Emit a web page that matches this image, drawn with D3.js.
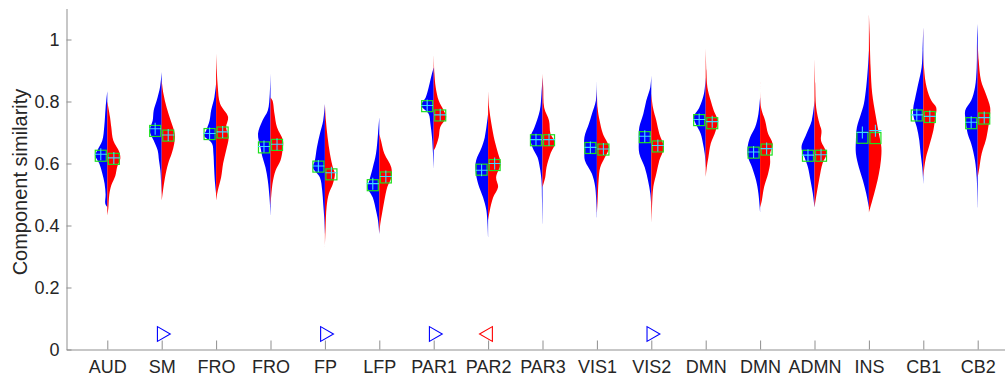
<!DOCTYPE html>
<html>
<head>
<meta charset="utf-8">
<script src="https://cdn.jsdelivr.net/npm/d3@7"></script>
<style>
  html, body { margin: 0; padding: 0; background: #fff; }
  svg { display: block; font-family: "Liberation Sans", Arial, Helvetica, sans-serif; }
</style>
</head>
<body>
<div class="violin-graph"></div>
<script>
const categories = ["AUD", "SM", "FRO", "FRO", "FP", "LFP", "PAR1", "PAR2", "PAR3",
  "VIS1", "VIS2", "DMN", "DMN", "ADMN", "INS", "CB1", "CB2"];

const yTicks = [0, 0.2, 0.4, 0.6, 0.8, 1];

// [value, density] pairs, top to bottom
const blueProfiles = [
  [[0.833,0],[0.78,1.7],[0.72,3],[0.674,5],[0.642,10],[0.626,12],[0.60,8],[0.568,5],[0.535,2.7],[0.50,1.7],[0.47,2],[0.459,0]],
  [[0.895,0],[0.846,1.7],[0.803,5],[0.771,8],[0.739,9],[0.706,12],[0.674,8],[0.642,4],[0.61,2.7],[0.577,1.3],[0.545,0.7],[0.50,0]],
  [[0.858,0],[0.814,1.7],[0.771,5],[0.739,6.5],[0.706,10],[0.69,12],[0.664,4],[0.632,2.7],[0.587,2],[0.545,1.3],[0.503,0]],
  [[0.89,0],[0.826,0.7],[0.771,2.7],[0.739,8],[0.696,12.5],[0.652,10],[0.62,8],[0.587,5],[0.545,2.7],[0.49,1],[0.432,0]],
  [[0.793,0],[0.739,1.7],[0.696,5],[0.652,8],[0.61,10],[0.587,12],[0.555,5],[0.513,2.7],[0.47,1.7],[0.426,0.7],[0.373,0]],
  [[0.749,0],[0.696,1.3],[0.632,3.3],[0.587,6.5],[0.545,10],[0.524,12],[0.49,6.5],[0.448,3.3],[0.416,1.3],[0.373,0]],
  [[0.91,0],[0.89,1.7],[0.846,5],[0.813,8],[0.787,12.5],[0.76,5],[0.728,3.3],[0.685,1.7],[0.632,0.7],[0.584,0]],
  [[0.76,0],[0.685,3.3],[0.652,6.5],[0.61,12],[0.577,12.5],[0.535,10],[0.49,5],[0.448,1.7],[0.362,0]],
  [[0.878,0],[0.826,1],[0.771,2.7],[0.717,8],[0.685,12],[0.652,10],[0.62,5],[0.587,2.7],[0.545,1],[0.48,0.5],[0.406,0]],
  [[0.868,0],[0.803,1],[0.76,5],[0.728,8],[0.685,12.5],[0.642,12.5],[0.61,12],[0.567,5],[0.524,1.7],[0.426,0]],
  [[0.884,0],[0.846,1],[0.803,5],[0.76,8],[0.717,12],[0.674,12.5],[0.632,12],[0.587,6.5],[0.545,3.3],[0.503,1],[0.46,0]],
  [[0.878,0],[0.826,1.7],[0.78,6.5],[0.75,12],[0.728,10],[0.696,5],[0.664,2.7],[0.632,1],[0.587,0]],
  [[0.813,0],[0.76,1.7],[0.717,5],[0.685,10],[0.652,12.5],[0.62,12],[0.587,8],[0.545,4],[0.503,1.7],[0.442,0]],
  [[0.803,0],[0.739,2.7],[0.696,8],[0.652,13],[0.62,10],[0.587,6.5],[0.545,4],[0.503,1.7],[0.458,0]],
  [[0.965,0],[0.91,1],[0.846,2.7],[0.793,5],[0.76,8],[0.717,12],[0.674,13],[0.632,13],[0.587,10],[0.545,6],[0.503,2.7],[0.458,0]],
  [[1.04,0],[0.965,0.7],[0.91,1.7],[0.858,5],[0.813,8],[0.78,10],[0.755,10],[0.717,6.5],[0.674,4],[0.632,2.7],[0.587,1],[0.535,0]],
  [[1.05,0],[0.997,0.7],[0.91,1],[0.846,2.7],[0.803,6.5],[0.771,12.5],[0.739,12],[0.696,10],[0.664,6.5],[0.61,2.7],[0.555,1],[0.458,0]],
];

const redProfiles = [
  [[0.80,0],[0.75,2.7],[0.717,4],[0.674,6],[0.637,12],[0.615,13],[0.59,10],[0.56,8],[0.53,4],[0.50,2],[0.455,1],[0.432,0]],
  [[0.868,0],[0.826,1.7],[0.78,5],[0.739,9],[0.696,13],[0.664,12.5],[0.632,10],[0.60,6.5],[0.555,3.3],[0.513,1.3],[0.48,0]],
  [[0.955,0],[0.9,0.7],[0.846,1.7],[0.793,4],[0.75,12],[0.717,10],[0.685,12.5],[0.642,10],[0.60,7],[0.555,5],[0.513,1.7],[0.48,0]],
  [[0.813,0],[0.803,2],[0.76,4],[0.717,6.5],[0.674,12.5],[0.642,12],[0.61,10],[0.577,5],[0.535,2],[0.46,0]],
  [[0.793,0],[0.739,1],[0.685,2.7],[0.632,5],[0.587,8],[0.567,10],[0.535,8],[0.503,4],[0.46,1.7],[0.394,0.7],[0.33,0]],
  [[0.696,0],[0.674,1.7],[0.632,5],[0.587,12],[0.555,12],[0.524,8],[0.48,5],[0.438,2.7],[0.406,1],[0.373,0]],
  [[0.955,0],[0.89,0.7],[0.846,2],[0.803,5],[0.771,10],[0.75,12.5],[0.717,6.5],[0.685,5],[0.652,1.7],[0.642,0]],
  [[0.835,0],[0.78,1],[0.728,3.3],[0.674,6.5],[0.632,10],[0.60,12.5],[0.555,8],[0.524,10],[0.49,5],[0.448,1.7],[0.416,0]],
  [[0.89,0],[0.846,0.7],[0.78,1.7],[0.739,6.5],[0.696,8],[0.668,12.5],[0.632,8],[0.587,4],[0.555,2.7],[0.535,1],[0.524,0]],
  [[0.868,0],[0.78,0.7],[0.739,2.7],[0.696,6],[0.652,12],[0.62,8],[0.587,3.3],[0.545,1.7],[0.48,0.7],[0.438,0]],
  [[0.826,0],[0.78,1.7],[0.739,5],[0.696,8],[0.652,12.5],[0.61,8],[0.567,5],[0.524,2],[0.46,0.7],[0.406,0]],
  [[0.975,0],[0.9,0.7],[0.846,1.7],[0.803,5],[0.771,8],[0.739,12],[0.706,10],[0.664,5],[0.62,2.7],[0.587,1],[0.555,0]],
  [[0.868,0],[0.78,1],[0.739,5],[0.696,8],[0.664,12.5],[0.632,10],[0.60,10],[0.567,8],[0.524,4],[0.48,1.7],[0.458,0]],
  [[0.942,0],[0.858,0.7],[0.78,1.7],[0.728,5],[0.706,7],[0.674,6.5],[0.632,12],[0.60,8],[0.555,5],[0.513,2.7],[0.48,1],[0.458,0]],
  [[1.083,0],[1.02,0.7],[0.91,1.7],[0.826,3.3],[0.76,6.5],[0.696,10],[0.652,12.5],[0.61,12],[0.567,10],[0.524,7],[0.48,3.3],[0.442,0]],
  [[1.04,0],[0.91,0.7],[0.846,3.3],[0.803,8],[0.78,13],[0.749,12],[0.706,10],[0.664,6.5],[0.62,2.7],[0.587,1],[0.555,0]],
  [[0.987,0],[0.932,1],[0.868,3.3],[0.826,8],[0.78,12.5],[0.749,12],[0.706,10],[0.674,8],[0.632,4],[0.587,1.7],[0.555,0]],
];

const blueMean = [0.625, 0.705, 0.695, 0.652, 0.59, 0.53, 0.785, 0.58, 0.675, 0.65, 0.685, 0.74, 0.635, 0.625, 0.683, 0.755, 0.73];
const redMean = [0.615, 0.69, 0.70, 0.66, 0.565, 0.555, 0.755, 0.595, 0.675, 0.645, 0.655, 0.73, 0.645, 0.625, 0.682, 0.75, 0.745];
const blueMedian = [0.63, 0.712, 0.697, 0.655, 0.592, 0.535, 0.787, 0.578, 0.677, 0.652, 0.688, 0.742, 0.637, 0.627, 0.70, 0.757, 0.733];
const redMedian = [0.618, 0.692, 0.702, 0.662, 0.57, 0.558, 0.757, 0.60, 0.677, 0.647, 0.658, 0.735, 0.648, 0.628, 0.706, 0.752, 0.748];

// significance markers: category index (1-based), direction, value
const sigIndex = [2, 5, 7, 8, 11];
const sigDirection = ["right", "right", "right", "left", "right"];
const sigValue = 0.05;

const width = 1005;
const height = 391;
const axisColor = "#8f8f8f";
const textColor = "#262626";

const x = d3.scaleLinear().domain([0.25, 17.75]).range([66.5, 1018.5]);
const y = d3.scaleLinear().domain([0, 1.1]).range([349.5, 8.5]);
const step = x(2) - x(1);
const w = d3.scaleLinear().domain([0, 27.2]).range([0, step / 2]);
const offset = 0.12;

const svg = d3.select(".violin-graph").append("svg")
  .attr("width", width)
  .attr("height", height);

svg.append("defs").append("filter")
  .attr("id", "soft")
  .append("feGaussianBlur")
  .attr("stdDeviation", 0.5);

const violins = svg.append("g").attr("filter", "url(#soft)");

const half = (cx, sign) => d3.area()
  .curve(d3.curveCatmullRom)
  .y((d) => y(d[0]))
  .x0(cx)
  .x1((d) => cx + sign * w(d[1]));

categories.forEach((c, i) => {
  const cx = x(i + 1);
  violins.append("path")
    .attr("d", half(cx, -1)(blueProfiles[i]))
    .attr("fill", "#0000ff");
  violins.append("path")
    .attr("d", half(cx, 1)(redProfiles[i]))
    .attr("fill", "#ff0000");
});

const marks = [
  { mean: blueMean, median: blueMedian, dx: -offset },
  { mean: redMean, median: redMedian, dx: offset },
];

marks.forEach((m) => {
  svg.append("g").selectAll("rect")
    .data(m.mean)
    .enter().append("rect")
    .attr("x", (d, i) => x(i + 1 + m.dx) - 5.5)
    .attr("y", (d) => y(d) - 5.5)
    .attr("width", 11)
    .attr("height", 11)
    .attr("fill", "none")
    .attr("stroke", "#1ee01e")
    .attr("stroke-width", 1.2);

  svg.append("g").selectAll("path")
    .data(m.median)
    .enter().append("path")
    .attr("d", (d, i) => {
      const px = x(i + 1 + m.dx);
      const py = y(d);
      return `M${px - 6},${py}H${px + 6}M${px},${py - 6}V${py + 6}`;
    })
    .attr("stroke", "#3fd8ff")
    .attr("stroke-width", 1.1);
});

const tri = d3.symbol().type(d3.symbolTriangle).size(95);

svg.append("g").selectAll("path")
  .data(sigIndex)
  .enter().append("path")
  .attr("d", tri)
  .attr("transform", (d, i) =>
    `translate(${x(d)},${y(sigValue)}) rotate(${sigDirection[i] === "right" ? 90 : -90})`)
  .attr("fill", "none")
  .attr("stroke", (d, i) => sigDirection[i] === "right" ? "#0000ff" : "#ff0000")
  .attr("stroke-width", 1.1);

const yAxis = d3.axisLeft(y)
  .tickValues(yTicks)
  .tickFormat(d3.format("~g"))
  .tickSize(-5)
  .tickSizeOuter(0)
  .tickPadding(7);

const xAxis = d3.axisBottom(x)
  .tickValues(d3.range(1, categories.length + 1))
  .tickFormat((d) => categories[d - 1])
  .tickSize(-9)
  .tickSizeOuter(0)
  .tickPadding(11);

const gy = svg.append("g")
  .attr("transform", "translate(66.5,0)")
  .call(yAxis);

const gx = svg.append("g")
  .attr("transform", "translate(0,349.5)")
  .call(xAxis);

[gx, gy].forEach((g) => {
  g.select(".domain").attr("stroke", axisColor);
  g.selectAll(".tick line").attr("stroke", axisColor);
  g.selectAll(".tick text")
    .attr("fill", textColor)
    .style("font-size", "18px")
    .style("font-family", "'Liberation Sans', Arial, sans-serif");
});

svg.append("text")
  .attr("transform", "translate(27,182) rotate(-90)")
  .attr("text-anchor", "middle")
  .attr("fill", textColor)
  .style("font-size", "20px")
  .text("Component similarity");
</script>
</body>
</html>
